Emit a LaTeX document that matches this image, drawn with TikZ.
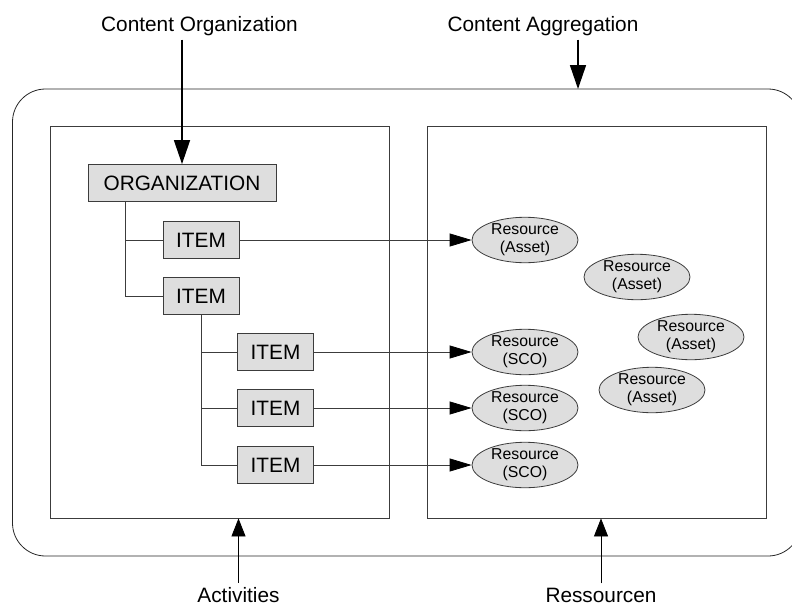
\documentclass[tikz,border=0pt]{standalone}
\usepackage{fontspec}
\setmainfont{Liberation Sans}
\usetikzlibrary{arrows.meta, positioning, shapes.geometric}
\definecolor{scormline}{RGB}{60,60,60}
\definecolor{scormfill}{RGB}{222,222,222}

\begin{document}
\begin{tikzpicture}[x=1pt, y=-1pt,
    box/.style={draw=scormline, fill=scormfill, line width=0.8pt, inner sep=0pt,
      minimum height=37pt, font=\fontsize{20.8}{24}\selectfont},
    res/.style={ellipse, draw=scormline, fill=scormfill, line width=0.8pt, inner sep=0pt,
      minimum width=106pt, minimum height=40pt, align=center, font=\fontsize{15.8}{18}\selectfont},
    area/.style={draw=scormline, line width=0.8pt, minimum width=339pt, minimum height=392pt},
    lbl/.style={inner sep=4pt, anchor=base, font=\fontsize{20.8}{24}\selectfont},
    tree/.style={draw=scormline, line width=0.8pt},
    link/.style={tree, -{Triangle[length=22pt, width=13pt, color=black]}},
    bigarrow/.style={black, line width=1.6pt, -{Triangle[length=24pt, width=16pt]}},
    smallarrow/.style={black, line width=0.8pt, -{Triangle[length=18pt, width=14pt]}}]
    \useasboundingbox (0,0) rectangle (792,605);
    % content aggregation frame
    \draw[black!85, line width=0.8pt, rounded corners=33pt] (12.5,89) rectangle (801,556);
    \coordinate (aggtip) at (578,89);
    % activities and resources
    \node[area] (actbox) at (219.5,322) {};
    \node[area] (resbox) at (596.5,322) {};
    % organization tree
    \node[box, minimum width=188pt] (org) at (182,183) {ORGANIZATION};
    \node[box, minimum width=76pt] (itemA) at (201,240) {ITEM};
    \node[box, minimum width=76pt] (itemB) at (201,296) {ITEM};
    \node[box, minimum width=76pt] (itemC) at (275.5,352) {ITEM};
    \node[box, minimum width=76pt] (itemD) at (275.5,408) {ITEM};
    \node[box, minimum width=76pt] (itemE) at (275.5,465) {ITEM};
    \draw[tree] ([xshift=38pt]org.south west) |- (itemA.west);
    \draw[tree] ([xshift=38pt]org.south west) |- (itemB.west);
    \foreach \child in {itemC, itemD, itemE} {
      \draw[tree] (itemB.south) |- (\child.west);
    }
    % resources
    \node[res] (resA) at (525,240) {Resource\\(Asset)};
    \node[res] (resB) at (525,352) {Resource\\(SCO)};
    \node[res] (resC) at (525,408) {Resource\\(SCO)};
    \node[res] (resD) at (525,465) {Resource\\(SCO)};
    \node[res] (assetA) at (637,277) {Resource\\(Asset)};
    \node[res] (assetB) at (691,337) {Resource\\(Asset)};
    \node[res] (assetC) at (652,390) {Resource\\(Asset)};
    \draw[link] (itemA.east) -- (resA.west);
    \draw[link] (itemC.east) -- (resB.west);
    \draw[link] (itemD.east) -- (resC.west);
    \draw[link] (itemE.east) -- (resD.west);
    % labels
    \node[lbl] (lorg) at (199.5,31) {Content Organization};
    \node[lbl] (lagg) at (543,31) {Content Aggregation};
    \node[lbl] (lact) at (238.5,602) {Activities};
    \node[lbl] (lres) at (601,602) {Ressourcen};
    \draw[bigarrow] (lorg.south -| org.north) -- (org.north);
    \draw[bigarrow] (lagg.south -| aggtip) -- (aggtip);
    \draw[smallarrow] (lact.north) -- (lact.north |- actbox.south);
    \draw[smallarrow] (lres.north) -- (lres.north |- resbox.south);
\end{tikzpicture}
\end{document}
